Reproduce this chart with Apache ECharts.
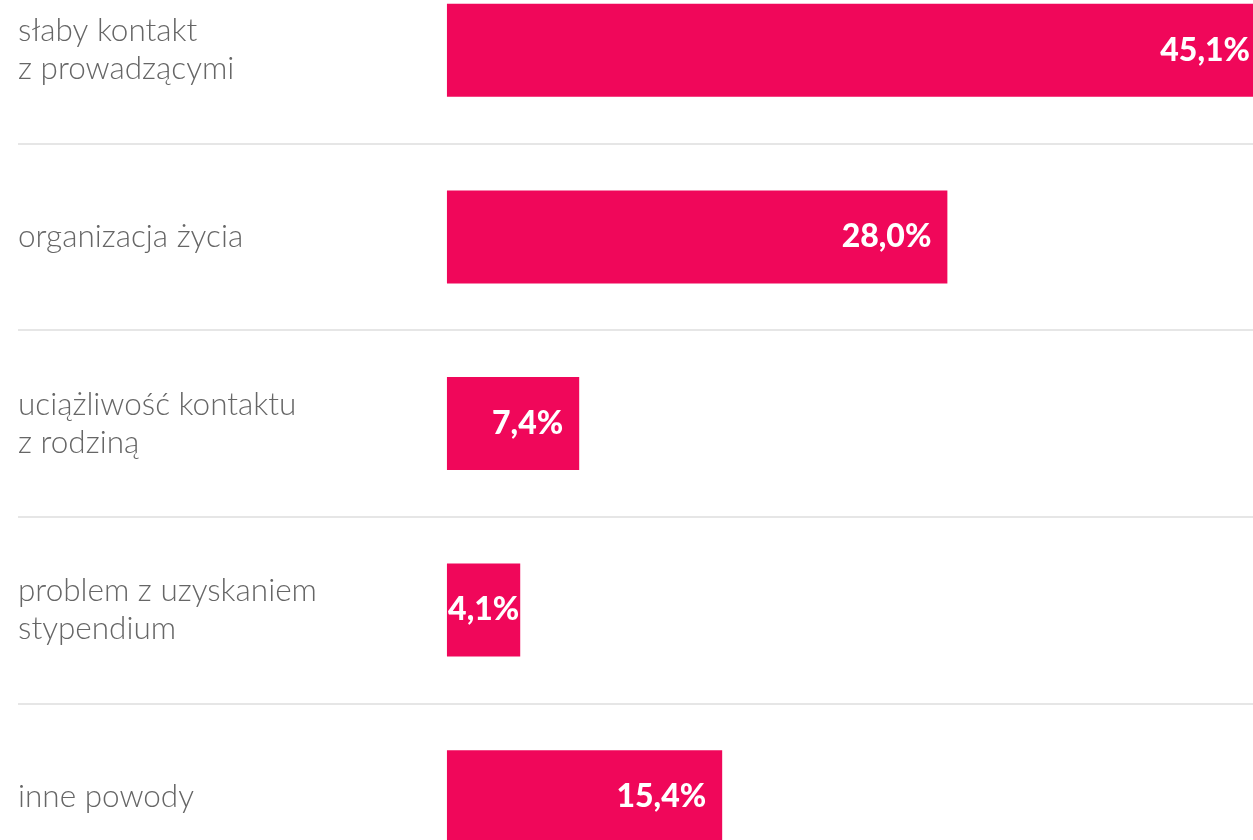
<!DOCTYPE html>
<html>
<head>
<meta charset="utf-8">
<script src="https://cdn.jsdelivr.net/npm/echarts@6/dist/echarts.min.js"></script>
<style>
  html, body { margin: 0; padding: 0; background: #fff; }
  #chart { width: 1253px; height: 840px; }
</style>
</head>
<body>
<div id="chart"></div>
<script>
    // reasons, top to bottom
    let categories = [
        "słaby kontakt\nz prowadzącymi",
        "organizacja życia",
        "uciążliwość kontaktu\nz rodziną",
        "problem z uzyskaniem\nstypendium",
        "inne powody"
    ];
    let shares = [45.1, 28.0, 7.4, 4.1, 15.4];

    let maxShare = Math.max.apply(null, shares);
    let barData = shares.map(function(v){
        // narrow bar: label barely fits, so keep it tight to the edge
        if (v < 5) {
            return {value: v, label: {distance: 1}};
        }
        // longest bar runs to the page edge, label sits closer to it
        if (v === maxShare) {
            return {value: v, label: {distance: 3}};
        }
        return v;
    });

    let chart = echarts.init(document.getElementById("chart"));
    let option = {
        animation: false,
        grid: {
            left: 18,
            right: 0,
            top: -43,
            height: 933,
            outerBoundsMode: 'none'
        },
        xAxis: {
            type: 'value',
            min: -24,
            max: 45.1,
            show: false
        },
        yAxis: {
            type: 'category',
            inverse: true,
            data: categories,
            axisLine: {show: false},
            axisTick: {show: false},
            splitLine: {
                show: true,
                lineStyle: {color: '#e6e6e6', width: 2}
            },
            axisLabel: {
                inside: true,
                margin: 0,
                align: 'left',
                fontFamily: 'Lato',
                fontWeight: 300,
                fontSize: 31.5,
                lineHeight: 38,
                color: '#666666'
            }
        },
        series: [{
            type: 'bar',
            data: barData,
            barWidth: 93,
            itemStyle: {color: '#f0075a'},
            label: {
                show: true,
                position: 'insideRight',
                distance: 16,
                fontFamily: 'Lato',
                fontWeight: 900,
                fontSize: 32,
                color: '#ffffff',
                formatter: function(p){
                    return p.value.toFixed(1).replace('.', ',') + '%';
                }
            }
        }]
    };
    chart.setOption(option);
</script>
</body>
</html>
